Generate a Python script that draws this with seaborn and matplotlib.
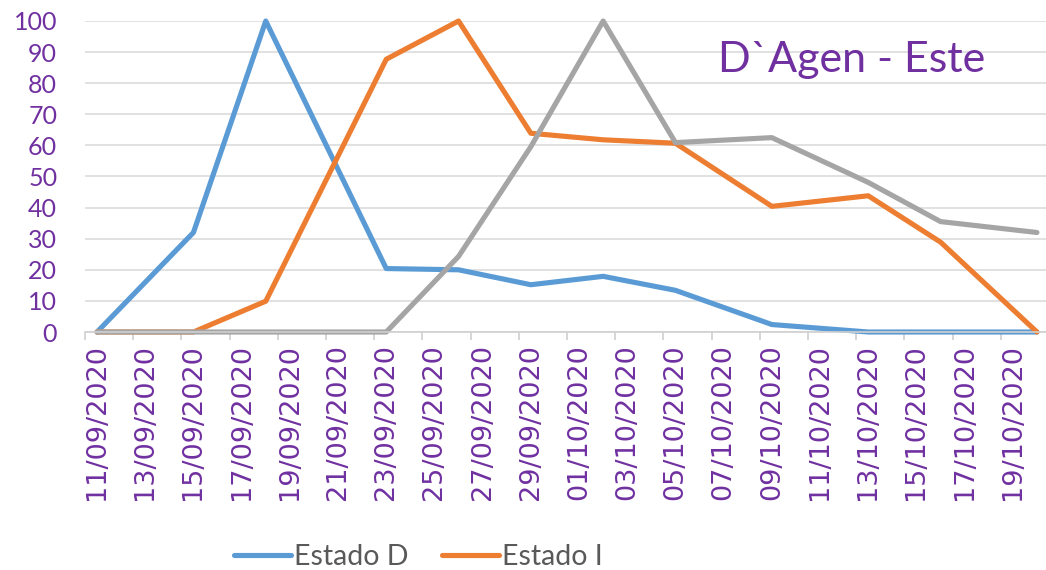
import pandas as pd
import matplotlib
matplotlib.use("Agg")
import matplotlib.pyplot as plt
import matplotlib.dates as mdates
import seaborn as sns

# datos
fechas = ["2020-09-11", "2020-09-15", "2020-09-18", "2020-09-23", "2020-09-26", "2020-09-29",
          "2020-10-02", "2020-10-05", "2020-10-09", "2020-10-13", "2020-10-16", "2020-10-20"]
estado_d = [0, 32, 100, 20.4, 20, 15.2, 17.9, 13.4, 2.4, 0, 0, 0]
estado_i = [0, 0, 9.9, 87.7, 100, 63.9, 61.8, 60.7, 40.4, 43.8, 28.9, 0]
estado_r = [0, 0, 0, 0, 24.3, 59.6, 100, 60.9, 62.5, 48.1, 35.5, 32.0]
series = ["Estado D", "Estado I", "Estado R"]
colores = ["#5B9BD5", "#ED7D31", "#A5A5A5"]
titulo = "D`Agen - Este"
yticks = list(range(0, 101, 10))

df = pd.DataFrame({"fecha": pd.to_datetime(fechas),
                   "Estado D": estado_d, "Estado I": estado_i, "Estado R": estado_r})
largo = df.melt(id_vars="fecha", var_name="serie", value_name="valor")

sns.set_style("white")
plt.rcParams['font.family'] = ['Lato', 'DejaVu Sans']
morado = "#7030A0"

fig = plt.figure(figsize=(10.46, 5.70), dpi=100)
ax = fig.add_axes([85 / 1046, 238 / 570, 964 / 1046, 311 / 570])

sns.lineplot(data=largo, x="fecha", y="valor", hue="serie", hue_order=series,
             palette=colores, linewidth=3.7, ax=ax, legend=True)
for line in ax.get_lines():
    line.set_clip_on(False)
    line.set_solid_joinstyle("round")
    line.set_solid_capstyle("round")

ax.set_xlim(pd.Timestamp("2020-09-10 12:00"), pd.Timestamp("2020-10-20 12:00"))
ax.set_ylim(0, 100)
ax.set_yticks(yticks)
ax.grid(axis="y", color="#D9D9D9", linewidth=1.1)
ax.set_axisbelow(True)
for s in ["top", "right", "left"]:
    ax.spines[s].set_visible(False)
ax.spines["bottom"].set_color("#D0D0D0")
ax.spines["bottom"].set_linewidth(1.2)

etiquetas = pd.date_range("2020-09-11", "2020-10-19", freq="2D")
marcas = pd.date_range("2020-09-10 12:00", periods=21, freq="2D")
ax.set_xticks(etiquetas)
ax.xaxis.set_major_formatter(mdates.DateFormatter("%d/%m/%Y"))
ax.set_xticks(marcas, minor=True)
ax.tick_params(axis="x", which="major", length=0, pad=9, labelsize=19.5,
               labelcolor=morado, rotation=90)
ax.tick_params(axis="x", which="minor", length=6, width=1.2, color="#D0D0D0", bottom=True)
for t in ax.get_xticklabels():
    t.set_family(["DejaVu Sans"])
ax.tick_params(axis="y", length=0, pad=20, labelsize=18, labelcolor=morado)
ax.set_xlabel("")
ax.set_ylabel("")

fig.text(718 / 1046, 1 - 72 / 570, titulo, color=morado, fontsize=31,
         ha="left", va="baseline")

handles, labels = ax.get_legend_handles_labels()
ax.legend_.remove()
fig.legend(handles[:2], labels[:2], loc="center", bbox_to_anchor=(0.40, 0.022),
           ncol=2, frameon=False, fontsize=20.5, handlelength=2.0, handletextpad=0.1,
           columnspacing=1.2, labelcolor="#595959")

fig.savefig("out.png", dpi=100)
